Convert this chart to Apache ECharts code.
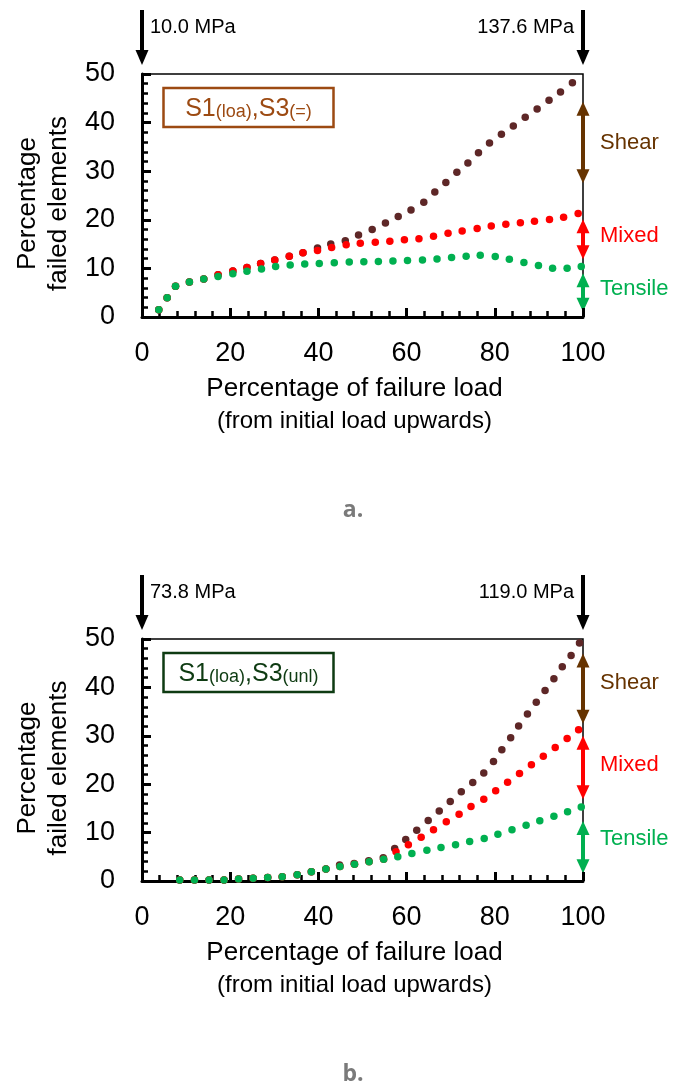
<!DOCTYPE html>
<html>
<head>
<meta charset="utf-8">
<title>Percentage failed elements</title>
<script src="https://cdn.jsdelivr.net/npm/echarts@6/dist/echarts.min.js"></script>
<style>
  html, body { margin: 0; padding: 0; background: #fff; }
  #chart { width: 674px; height: 1086px; }
</style>
</head>
<body>
<div id="chart"></div>
<script>
// panel a: S1(loa),S3(=)  -- cumulative percentages
const aTensileX = [3.8, 5.7, 7.6, 10.75, 14.0, 17.25, 20.6, 23.8, 27.1, 30.3, 33.6, 36.9, 40.2, 43.6, 47.0, 50.3, 53.6, 56.9, 60.2, 63.6, 66.9, 70.2, 73.5, 76.7, 80.1, 83.3, 86.6, 89.9, 93.1, 96.4, 99.6];
const aTensileY = [1.5, 3.95, 6.35, 7.2, 7.8, 8.35, 8.9, 9.4, 9.9, 10.4, 10.7, 10.9, 11.0, 11.15, 11.3, 11.35, 11.4, 11.5, 11.6, 11.75, 11.95, 12.25, 12.5, 12.7, 12.45, 11.9, 11.2, 10.6, 10.05, 10.05, 10.4];
const aMixedX = [3.8, 5.7, 7.6, 10.75, 14.0, 17.25, 20.6, 23.8, 26.9, 30.1, 33.4, 36.5, 39.8, 43.0, 46.3, 49.5, 52.9, 56.2, 59.5, 62.8, 66.1, 69.4, 72.6, 76.0, 79.2, 82.5, 85.8, 89.0, 92.4, 95.6, 98.9];
const aMixedY = [1.5, 3.95, 6.35, 7.2, 7.8, 8.7, 9.45, 10.2, 11.0, 11.75, 12.5, 13.2, 13.7, 14.3, 14.85, 15.2, 15.4, 15.6, 15.9, 16.1, 16.6, 17.25, 17.7, 18.2, 18.75, 19.1, 19.4, 19.7, 20.05, 20.5, 21.3];
const aShearX = [3.8, 5.7, 7.6, 10.75, 14.0, 17.25, 20.6, 23.8, 26.9, 30.1, 33.4, 36.5, 39.8, 42.8, 46.1, 49.1, 52.2, 55.2, 58.1, 61.0, 63.9, 66.4, 68.9, 71.4, 73.9, 76.3, 78.8, 81.5, 84.2, 86.9, 89.6, 92.3, 94.9, 97.6];
const aShearY = [1.5, 3.95, 6.35, 7.2, 7.8, 8.7, 9.45, 10.2, 11.0, 11.75, 12.5, 13.2, 14.2, 15.0, 15.7, 16.85, 18.0, 19.35, 20.7, 22.0, 23.6, 25.7, 27.7, 29.8, 31.7, 33.8, 35.8, 37.6, 39.3, 41.1, 42.8, 44.6, 46.3, 48.2];

// panel b: S1(loa),S3(unl)
const bTensileX = [8.55, 11.9, 15.2, 18.6, 21.9, 25.2, 28.5, 31.8, 35.2, 38.4, 41.7, 44.9, 48.2, 51.5, 54.8, 58.0, 61.2, 64.6, 67.8, 71.1, 74.3, 77.6, 80.7, 83.9, 87.1, 90.2, 93.4, 96.5, 99.6];
const bTensileY = [0.2, 0.2, 0.2, 0.2, 0.4, 0.55, 0.7, 0.9, 1.3, 1.9, 2.5, 3.0, 3.45, 4.0, 4.5, 5.0, 5.7, 6.35, 6.9, 7.5, 8.15, 8.8, 9.65, 10.6, 11.5, 12.45, 13.4, 14.3, 15.3];
const bMixedX = [8.55, 11.9, 15.2, 18.6, 21.9, 25.2, 28.5, 31.8, 35.2, 38.4, 41.7, 44.9, 48.2, 51.5, 54.8, 57.6, 60.4, 63.3, 66.1, 69.0, 71.9, 74.6, 77.5, 80.2, 82.9, 85.6, 88.3, 91.0, 93.7, 96.4, 99.0];
const bMixedY = [0.2, 0.2, 0.2, 0.2, 0.4, 0.55, 0.7, 0.9, 1.3, 1.9, 2.5, 3.0, 3.45, 4.0, 4.5, 6.05, 7.5, 9.05, 10.6, 12.25, 13.8, 15.4, 16.9, 18.65, 20.4, 22.2, 24.0, 25.8, 27.6, 29.45, 31.25];
const bShearX = [8.55, 11.9, 15.2, 18.6, 21.9, 25.2, 28.5, 31.8, 35.2, 38.4, 41.7, 44.8, 48.1, 51.4, 54.7, 57.3, 59.8, 62.3, 64.9, 67.4, 69.9, 72.4, 75.0, 77.5, 79.7, 81.6, 83.6, 85.4, 87.4, 89.4, 91.4, 93.4, 95.3, 97.3, 99.2];
const bShearY = [0.2, 0.2, 0.2, 0.2, 0.4, 0.55, 0.7, 0.9, 1.3, 1.9, 2.5, 3.3, 3.6, 4.2, 4.8, 6.7, 8.6, 10.5, 12.5, 14.45, 16.45, 18.45, 20.35, 22.3, 24.7, 27.1, 29.6, 32.0, 34.5, 36.95, 39.35, 41.8, 44.25, 46.6, 49.15];

// ticks
const xMin = 0, xMax = 100, xStep = 20;
const yMin = 0, yMax = 50, yStep = 10;

// annotations: load range labels and the bracket arrows on the right side
const loadLabels = [['10.0 MPa', '137.6 MPa'], ['73.8 MPa', '119.0 MPa']];
const panelTags = ['a.', 'b.'];
const boxLabels = [['S1', '(loa)', ',S3', '(=)'], ['S1', '(loa)', ',S3', '(unl)']];
const bracketNames = ['Shear', 'Mixed', 'Tensile'];
const bracketRanges = [
  [[44.3, 27.5], [20.1, 11.9], [9.0, 1.1]],
  [[47.0, 32.5], [30.0, 16.9], [12.4, 1.6]]
];
const bracketTextY = [[35.9, 16.6, 5.7], [40.9, 23.9, 8.6]];

const shearDot = '#5e2727';
const mixedDot = '#ff0000';
const tensileDot = '#00b050';
const bracketColors = ['#663300', '#ff0000', '#00b050'];
const boxColors = ['#9c4a12', '#0e3b12'];
const font = 'Liberation Sans, Arial, sans-serif';

const zip = (xs, ys) => xs.map((x, i) => [x, ys[i]]);

const chart = echarts.init(document.getElementById('chart'));

function mainX(g) {
  return {
    type: 'value', gridIndex: g, min: xMin, max: xMax, interval: xStep,
    axisLine: { show: true, onZero: false, lineStyle: { color: '#000', width: 3 } },
    axisTick: { show: true, inside: true, length: 7, lineStyle: { color: '#000', width: 3 } },
    minorTick: { show: true, splitNumber: 5, length: 6, lineStyle: { color: '#000', width: 2.5 } },
    splitLine: { show: false }, minorSplitLine: { show: false },
    axisLabel: { show: true, margin: 23, color: '#000', fontSize: 27, fontFamily: font, showMinLabel: true, showMaxLabel: true },
    name: '{a|Percentage of failure load}\n{b|(from initial load upwards)}',
    nameLocation: 'middle', nameGap: 55,
    nameTextStyle: {
      padding: [0, 16, 0, 0],
      rich: {
        a: { fontSize: 26, fontFamily: font, color: '#000', lineHeight: 33 },
        b: { fontSize: 24, fontFamily: font, color: '#000', lineHeight: 33 }
      }
    }
  };
}
function outerX(g) {
  return {
    type: 'value', gridIndex: g, min: xMin, max: xMax, interval: xStep,
    axisLine: { show: false },
    axisTick: { show: true, inside: false, length: 9, lineStyle: { color: '#000', width: 3 } },
    splitLine: { show: false }, axisLabel: { show: false }
  };
}
function mainY(g) {
  return {
    type: 'value', gridIndex: g, min: yMin, max: yMax, interval: yStep,
    axisLine: { show: true, onZero: false, lineStyle: { color: '#000', width: 3 } },
    axisTick: { show: true, inside: true, length: 7, lineStyle: { color: '#000', width: 3 } },
    minorTick: { show: true, splitNumber: 5, length: 6, lineStyle: { color: '#000', width: 2.5 } },
    splitLine: { show: false }, minorSplitLine: { show: false },
    axisLabel: { show: true, margin: 27, color: '#000', fontSize: 27, fontFamily: font, showMinLabel: true, showMaxLabel: true },
    name: 'Percentage\nfailed elements',
    nameLocation: 'middle', nameGap: 67, nameRotate: 90,
    nameTextStyle: { fontSize: 26, fontFamily: font, color: '#000', lineHeight: 31, padding: [0, 16, 0, 0] }
  };
}
function outerY(g) {
  return {
    type: 'value', gridIndex: g, min: yMin, max: yMax, interval: yStep,
    axisLine: { show: false },
    axisTick: { show: true, inside: false, length: 9, lineStyle: { color: '#000', width: 3 } },
    splitLine: { show: false }, axisLabel: { show: false }
  };
}
function dots(name, g, data, color) {
  return {
    name: name, type: 'scatter', xAxisIndex: g * 2, yAxisIndex: g * 2,
    data: data, symbol: 'circle', symbolSize: 7.5,
    itemStyle: { color: color, opacity: 1 }, silent: true
  };
}

const option = {
  animation: false,
  backgroundColor: '#fff',
  grid: [
    { left: 142, top: 74, width: 441, height: 243, show: true, borderColor: '#000', borderWidth: 1.5, backgroundColor: 'transparent', outerBoundsMode: 'none' },
    { left: 142, top: 639, width: 441, height: 242, show: true, borderColor: '#000', borderWidth: 1.5, backgroundColor: 'transparent', outerBoundsMode: 'none' }
  ],
  xAxis: [mainX(0), outerX(0), mainX(1), outerX(1)],
  yAxis: [mainY(0), outerY(0), mainY(1), outerY(1)],
  series: [
    dots('Shear', 0, zip(aShearX, aShearY), shearDot),
    dots('Mixed', 0, zip(aMixedX, aMixedY), mixedDot),
    dots('Tensile', 0, zip(aTensileX, aTensileY), tensileDot),
    dots('Shear', 1, zip(bShearX, bShearY), shearDot),
    dots('Mixed', 1, zip(bMixedX, bMixedY), mixedDot),
    dots('Tensile', 1, zip(bTensileX, bTensileY), tensileDot)
  ]
};
chart.setOption(option);

// arrows and labels go on top, placed through the axes
function downArrow(x, y0, y1) {
  return [
    { type: 'rect', shape: { x: x - 2, y: y0, width: 4, height: y1 - y0 - 14 }, style: { fill: '#000' } },
    { type: 'polygon', shape: { points: [[x - 6.5, y1 - 15], [x + 6.5, y1 - 15], [x, y1]] }, style: { fill: '#000' } }
  ];
}
function bracket(x, yTop, yBot, color) {
  return [
    { type: 'rect', shape: { x: x - 2, y: yTop + 12, width: 4, height: yBot - yTop - 24 }, style: { fill: color } },
    { type: 'polygon', shape: { points: [[x, yTop], [x + 6.5, yTop + 14], [x - 6.5, yTop + 14]] }, style: { fill: color } },
    { type: 'polygon', shape: { points: [[x, yBot], [x + 6.5, yBot - 14], [x - 6.5, yBot - 14]] }, style: { fill: color } }
  ];
}

const graphics = [];
[0, 1].forEach(function (g) {
  const p0 = chart.convertToPixel({ gridIndex: g }, [xMin, yMax]);
  const p1 = chart.convertToPixel({ gridIndex: g }, [xMax, yMax]);
  const pBottom = chart.convertToPixel({ gridIndex: g }, [xMin, yMin]);
  const top = p0[1];
  graphics.push.apply(graphics, downArrow(p0[0], top - 64, top - 9));
  graphics.push.apply(graphics, downArrow(p1[0], top - 64, top - 9));
  graphics.push({ type: 'text', x: p0[0] + 8, y: top - 47, style: { text: loadLabels[g][0], fontSize: 20, fontFamily: font, fill: '#000', align: 'left', verticalAlign: 'middle' } });
  graphics.push({ type: 'text', x: p1[0] - 9, y: top - 47, style: { text: loadLabels[g][1], fontSize: 20, fontFamily: font, fill: '#000', align: 'right', verticalAlign: 'middle' } });

  // label box
  const boxColor = boxColors[g];
  graphics.push({ type: 'rect', shape: { x: p0[0] + 21.5, y: top + 14, width: 170, height: 39 }, style: { fill: '#fff', stroke: boxColor, lineWidth: 2.5 } });
  const t = boxLabels[g];
  graphics.push({
    type: 'text', x: p0[0] + 106.5, y: top + 33.5,
    style: {
      text: '{big|' + t[0] + '}{small|' + t[1] + '}{big|' + t[2] + '}{small|' + t[3] + '}',
      align: 'center', verticalAlign: 'middle',
      rich: {
        big: { fontSize: 25, fontFamily: font, fill: boxColor, verticalAlign: 'bottom', lineHeight: 28 },
        small: { fontSize: 18, fontFamily: font, fill: boxColor, verticalAlign: 'bottom', lineHeight: 28 }
      }
    }
  });

  // brackets on the right edge
  bracketNames.forEach(function (nm, k) {
    const a = chart.convertToPixel({ gridIndex: g }, [xMax, bracketRanges[g][k][0]]);
    const b = chart.convertToPixel({ gridIndex: g }, [xMax, bracketRanges[g][k][1]]);
    graphics.push.apply(graphics, bracket(a[0], a[1], b[1], bracketColors[k]));
    const ty = chart.convertToPixel({ gridIndex: g }, [xMax, bracketTextY[g][k]])[1];
    graphics.push({ type: 'text', x: a[0] + 17, y: ty, style: { text: nm, fontSize: 22, fontFamily: font, fill: bracketColors[k], align: 'left', verticalAlign: 'middle' } });
  });

  // panel tag
  graphics.push({ type: 'text', x: 353, y: pBottom[1] + 193, style: { text: panelTags[g], fontSize: 23, fontWeight: 'bold', fontFamily: 'Open Sans, DejaVu Sans, sans-serif', fill: '#7a7a7a', align: 'center', verticalAlign: 'middle' } });
});
chart.setOption({ graphic: graphics });
</script>
</body>
</html>
